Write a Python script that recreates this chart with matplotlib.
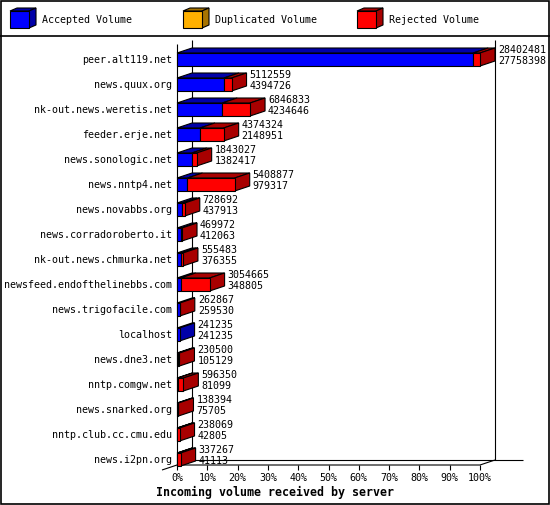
import numpy as np
import matplotlib.pyplot as plt
from matplotlib.patches import Polygon, Rectangle

servers = ['peer.alt119.net', 'news.quux.org', 'nk-out.news.weretis.net',
           'feeder.erje.net', 'news.sonologic.net', 'news.nntp4.net',
           'news.novabbs.org', 'news.corradoroberto.it', 'nk-out.news.chmurka.net',
           'newsfeed.endofthelinebbs.com', 'news.trigofacile.com', 'localhost',
           'news.dne3.net', 'nntp.comgw.net', 'news.snarked.org',
           'nntp.club.cc.cmu.edu', 'news.i2pn.org']
total_volume = [28402481, 5112559, 6846833, 4374324, 1843027, 5408877,
                728692, 469972, 555483, 3054665, 262867, 241235,
                230500, 596350, 138394, 238069, 337267]
accepted_volume = [27758398, 4394726, 4234646, 2148951, 1382417, 979317,
                   437913, 412063, 376355, 348805, 259530, 241235,
                   105129, 81099, 75705, 42805, 41113]
duplicated_volume = [0] * len(servers)
legend_labels = ['Accepted Volume', 'Duplicated Volume', 'Rejected Volume']
x_ticks = list(range(0, 101, 10))
title = 'Incoming volume received by server'

total = np.array(total_volume, dtype=float)
accepted = np.array(accepted_volume, dtype=float)
duplicated = np.array(duplicated_volume, dtype=float)
rejected = total - accepted - duplicated
scale = 100.0 / total.max()

front_cols = ['#0000ff', '#ffb000', '#ff0000']
side_cols = ['#0000a8', '#a87400', '#a80000']

W, H = 550, 505
FONT = 'DejaVu Sans Mono'
FS = 7.2
LW = 0.8

fig = plt.figure(figsize=(W / 100, H / 100), dpi=100)

# background axes in pixel units: frame, legend, title
bg = fig.add_axes([0, 0, 1, 1], zorder=0)
bg.set_xlim(0, W)
bg.set_ylim(H, 0)
bg.axis('off')
bg.add_patch(Rectangle((0.5, 0.5), W - 1.5, H - 1.5, fill=False, lw=1.2, ec='black'))
bg.plot([0, W], [35.5, 35.5], color='black', lw=1.2)

leg_x = [10, 183, 357]
for lx, lab, fc, sc in zip(leg_x, legend_labels, front_cols, side_cols):
    x0, y0, w, h, dx, dy = lx, 11, 19, 17, 7, 3
    bg.add_patch(Polygon([(x0, y0), (x0 + w, y0), (x0 + w + dx, y0 - dy), (x0 + dx, y0 - dy)],
                         fc=sc, ec='black', lw=LW))
    bg.add_patch(Polygon([(x0 + w, y0), (x0 + w, y0 + h), (x0 + w + dx, y0 + h - dy), (x0 + w + dx, y0 - dy)],
                         fc=sc, ec='black', lw=LW))
    bg.add_patch(Rectangle((x0, y0), w, h, fc=fc, ec='black', lw=LW))
    bg.text(lx + 32, 20, lab, family=FONT, fontsize=FS, va='center', ha='left')

bg.text(275, 492, title, family=FONT, fontsize=8.4, weight='bold', ha='center', va='center')

# main chart axes: x in percent, y in category index
ax = fig.add_axes([177 / W, 1 - 465 / H, 303 / W, 425 / H], zorder=1)
y_floor = (465 - 59.5) / 25
y_top = (40 - 59.5) / 25
ax.set_xlim(0, 100)
ax.set_ylim(y_floor, y_top)
ax.axis('off')
ax.patch.set_alpha(0)

px = 100 / 303.0      # one pixel in x units
DX = 15 * px
DY = 5 / 25.0
BH = 13 / 25.0

kw = dict(color='black', lw=LW, clip_on=False, solid_capstyle='butt')
# walls and floor
ax.plot([DX, DX], [y_top, y_floor - DY], **kw)
ax.plot([0, 0], [y_top + 4 / 25, y_floor], **kw)
ax.plot([100 + DX, 100 + DX], [y_top, y_floor - DY], **kw)
ax.plot([DX, 100 + 43 * px], [y_floor - DY, y_floor - DY], **kw)
ax.plot([-DX, 0, 100, 100 + DX], [y_floor + DY, y_floor, y_floor, y_floor - DY], **kw)
for t in x_ticks:
    ax.plot([t, t], [y_floor, y_floor + DY], **kw)
    ax.text(t, y_floor + 13 / 25, f'{t}%', family=FONT, fontsize=FS,
            ha='center', va='center')

for i, name in enumerate(servers):
    segs = [accepted[i] * scale, duplicated[i] * scale, rejected[i] * scale]
    yt, yb = i - BH / 2, i + BH / 2
    x0 = 0.0
    last = None
    for k, w in enumerate(segs):
        if w <= 0:
            continue
        x1 = x0 + w
        ax.add_patch(Polygon([(x0, yt), (x1, yt), (x1 + DX, yt - DY), (x0 + DX, yt - DY)],
                             fc=side_cols[k], ec='black', lw=LW, clip_on=False, zorder=3))
        ax.add_patch(Rectangle((x0, yt), w, BH, fc=front_cols[k], ec='black', lw=LW,
                               clip_on=False, zorder=4))
        last = k
        x0 = x1
    ax.add_patch(Polygon([(x0, yt), (x0, yb), (x0 + DX, yb - DY), (x0 + DX, yt - DY)],
                         fc=side_cols[last], ec='black', lw=LW, clip_on=False, zorder=3))
    ax.text(x0 + DX + 3 * px, i - 9.5 / 25, f'{total_volume[i]}', family=FONT,
            fontsize=FS, ha='left', va='center', zorder=5)
    ax.text(x0 + DX + 3 * px, i + 1.5 / 25, f'{accepted_volume[i]}', family=FONT,
            fontsize=FS, ha='left', va='center', zorder=5)
    ax.text(-5 * px, i, name, family=FONT, fontsize=FS, ha='right', va='center')

fig.savefig('out.png', dpi=100)
